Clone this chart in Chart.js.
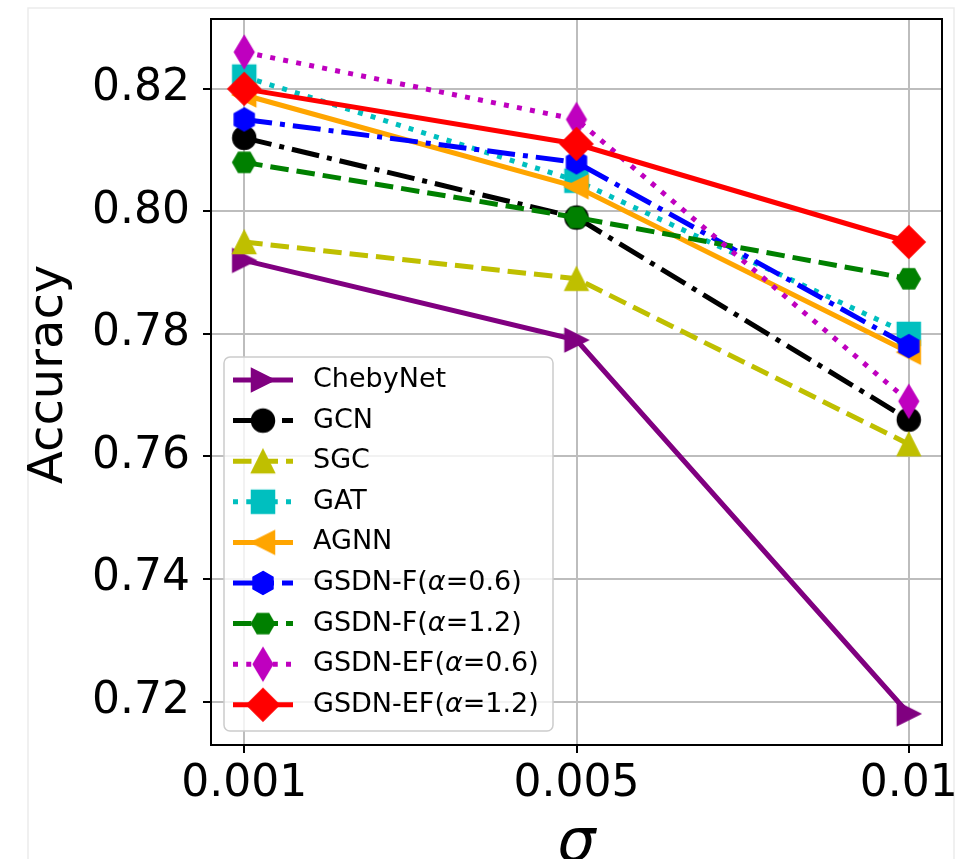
<!DOCTYPE html>
<html>
<head>
<meta charset="utf-8">
<script src="https://cdn.jsdelivr.net/npm/chart.js@4.4.1/dist/chart.umd.min.js"></script>
<style>
  html, body { margin: 0; padding: 0; background: #fff; }
  canvas { display: block; }
</style>
</head>
<body>
<canvas id="chart" width="965" height="859"></canvas>
<script>
// data
const sigmas = ["0.001", "0.005", "0.01"];
const yTicks = [0.72, 0.74, 0.76, 0.78, 0.80, 0.82];

const chebyNet = [0.792, 0.779, 0.718];
const gcn      = [0.812, 0.799, 0.766];
const sgc      = [0.795, 0.789, 0.762];
const gat      = [0.822, 0.805, 0.780];
const agnn     = [0.819, 0.804, 0.777];
const gsdnF06  = [0.815, 0.808, 0.778];
const gsdnF12  = [0.808, 0.799, 0.789];
const gsdnEF06 = [0.826, 0.815, 0.769];
const gsdnEF12 = [0.820, 0.811, 0.795];

const FONT = "'DejaVu Sans', 'Liberation Sans', sans-serif";
const MS = 23;   // marker size (px)
const LW = 5;    // line width

// matplotlib-like markers drawn on small canvases
function marker(kind, color) {
  const c = document.createElement("canvas");
  c.width = 44; c.height = 44;
  const g = c.getContext("2d");
  g.translate(22, 22);
  g.fillStyle = color;
  g.strokeStyle = color;
  g.lineWidth = 1.5;
  g.lineJoin = "miter";
  const h = MS / 2;
  let pts = null;
  g.beginPath();
  if (kind === "o") {
    g.arc(0, 0, h, 0, Math.PI * 2);
  } else if (kind === "s") {
    pts = [[-h, -h], [h, -h], [h, h], [-h, h]];
  } else if (kind === "^") {
    pts = [[0, -h], [h, h], [-h, h]];
  } else if (kind === ">") {
    pts = [[h, 0], [-h, h], [-h, -h]];
  } else if (kind === "<") {
    pts = [[-h, 0], [h, -h], [h, h]];
  } else if (kind === "D") {
    const d = MS * Math.SQRT1_2;
    pts = [[0, -d], [d, 0], [0, d], [-d, 0]];
  } else if (kind === "d") {
    const d = MS * Math.SQRT1_2;
    pts = [[0, -d], [0.6 * d, 0], [0, d], [-0.6 * d, 0]];
  } else if (kind === "h" || kind === "H") {
    pts = [];
    const start = kind === "h" ? -Math.PI / 2 : 0;
    for (let k = 0; k < 6; k++) {
      const a = start + k * Math.PI / 3;
      pts.push([h * Math.cos(a), h * Math.sin(a)]);
    }
  }
  if (pts) {
    pts.forEach((p, k) => k ? g.lineTo(p[0], p[1]) : g.moveTo(p[0], p[1]));
    g.closePath();
  }
  g.fill();
  g.stroke();
  return c;
}

const DASHED = [18.5, 8];
const DASHDOT = [28, 8, 5, 8];
const DOTTED = [5, 8.25];

const series = [
  { label: "ChebyNet",        values: chebyNet, color: "#800080", dash: [],      mk: ">" },
  { label: "GCN",             values: gcn,      color: "#000000", dash: DASHDOT, mk: "o" },
  { label: "SGC",             values: sgc,      color: "#bfbf00", dash: DASHED,  mk: "^" },
  { label: "GAT",             values: gat,      color: "#00bfbf", dash: DOTTED,  mk: "s" },
  { label: "AGNN",            values: agnn,     color: "#ffa500", dash: [],      mk: "<" },
  { label: "GSDN-F(α=0.6)",   values: gsdnF06,  color: "#0000ff", dash: DASHDOT, mk: "h" },
  { label: "GSDN-F(α=1.2)",   values: gsdnF12,  color: "#008000", dash: DASHED,  mk: "H" },
  { label: "GSDN-EF(α=0.6)",  values: gsdnEF06, color: "#bf00bf", dash: DOTTED,  mk: "d" },
  { label: "GSDN-EF(α=1.2)",  values: gsdnEF12, color: "#ff0000", dash: [],      mk: "D" }
];
series.forEach(s => s.img = marker(s.mk, s.color));

const datasets = series.map((s, i) => ({
  label: s.label,
  data: s.values.map((v, k) => ({ x: k, y: v })),
  borderColor: s.color,
  backgroundColor: s.color,
  borderWidth: LW,
  borderDash: s.dash,
  pointStyle: s.img,
  pointRadius: 12,
  pointHoverRadius: 12,
  tension: 0,
  fill: false,
  order: -i
}));

// faint outer frame + black spines
const framePlugin = {
  id: "frame",
  beforeDraw(chart) {
    const ctx = chart.ctx;
    ctx.save();
    ctx.strokeStyle = "#ebebeb";
    ctx.lineWidth = 1.5;
    ctx.beginPath();
    ctx.moveTo(28, 860);
    ctx.lineTo(28, 8);
    ctx.lineTo(954, 8);
    ctx.lineTo(954, 860);
    ctx.stroke();
    ctx.restore();
  },
  afterDatasetsDraw(chart) {
    const { ctx, chartArea: a } = chart;
    ctx.save();
    ctx.strokeStyle = "#000";
    ctx.lineWidth = 2;
    ctx.strokeRect(a.left, a.top, a.right - a.left, a.bottom - a.top);
    ctx.restore();
  }
};

// legend drawn like matplotlib's (line sample + marker)
function drawLabel(ctx, text, x, y) {
  const parts = text.split("α");
  let cx = x;
  parts.forEach((p, k) => {
    ctx.font = "27px " + FONT;
    ctx.fillText(p, cx, y);
    cx += ctx.measureText(p).width;
    if (k < parts.length - 1) {
      ctx.font = "italic 27px " + FONT;
      ctx.fillText("α", cx, y);
      cx += ctx.measureText("α").width;
    }
  });
}

const legendPlugin = {
  id: "mplLegend",
  afterDraw(chart) {
    const ctx = chart.ctx;
    const box = { x: 224, y: 357, w: 329, h: 374 };
    ctx.save();
    ctx.beginPath();
    ctx.roundRect(box.x, box.y, box.w, box.h, 6);
    ctx.fillStyle = "rgba(255,255,255,0.8)";
    ctx.fill();
    ctx.strokeStyle = "#cccccc";
    ctx.lineWidth = 1.5;
    ctx.stroke();
    series.forEach((s, i) => {
      const y = 380 + 40.6 * i;
      ctx.beginPath();
      ctx.setLineDash(s.dash);
      ctx.strokeStyle = s.color;
      ctx.lineWidth = LW;
      ctx.moveTo(233, y);
      ctx.lineTo(293, y);
      ctx.stroke();
      ctx.setLineDash([]);
      ctx.drawImage(s.img, 263 - 22, y - 22);
      ctx.fillStyle = "#000";
      ctx.textBaseline = "middle";
      ctx.textAlign = "left";
      drawLabel(ctx, s.label, 313, y);
    });
    ctx.restore();
  }
};

new Chart(document.getElementById("chart"), {
  type: "line",
  data: { datasets },
  plugins: [framePlugin, legendPlugin],
  options: {
    responsive: false,
    animation: false,
    events: [],
    layout: { padding: { top: 19, right: 23, left: 0, bottom: 0 } },
    plugins: { legend: { display: false }, tooltip: { enabled: false } },
    scales: {
      x: {
        type: "linear",
        min: -0.1,
        max: 2.1,
        afterBuildTicks: axis => { axis.ticks = sigmas.map((_, k) => ({ value: k })); },
        afterFit: axis => { axis.height = 114; axis.paddingLeft = 0; axis.paddingRight = 0; },
        ticks: {
          callback: v => sigmas[v] ?? "",
          font: { family: FONT, size: 44 },
          color: "#000",
          padding: 5,
          maxRotation: 0
        },
        grid: { color: "#bdbdbd", lineWidth: 2, tickColor: "#000", tickLength: 8, tickWidth: 2 },
        border: { color: "#000", width: 2 },
        title: {
          display: true,
          text: "σ",
          color: "#000",
          font: { family: FONT, size: 60, style: "italic", lineHeight: 1 },
          padding: { top: 0, bottom: -16 }
        }
      },
      y: {
        min: 0.7129,
        max: 0.8314,
        afterBuildTicks: axis => { axis.ticks = yTicks.map(v => ({ value: v })); },
        afterFit: axis => { axis.width = 211; axis.paddingTop = 0; axis.paddingBottom = 0; },
        ticks: {
          callback: v => v.toFixed(2),
          font: { family: FONT, size: 44 },
          color: "#000",
          padding: 13
        },
        grid: { color: "#bdbdbd", lineWidth: 2, tickColor: "#000", tickLength: 8, tickWidth: 2 },
        border: { color: "#000", width: 2 },
        title: {
          display: true,
          text: " Accuracy",
          color: "#000",
          font: { family: FONT, size: 48, lineHeight: 1 },
          padding: { top: 26, bottom: 0 }
        }
      }
    }
  }
});
</script>
</body>
</html>
